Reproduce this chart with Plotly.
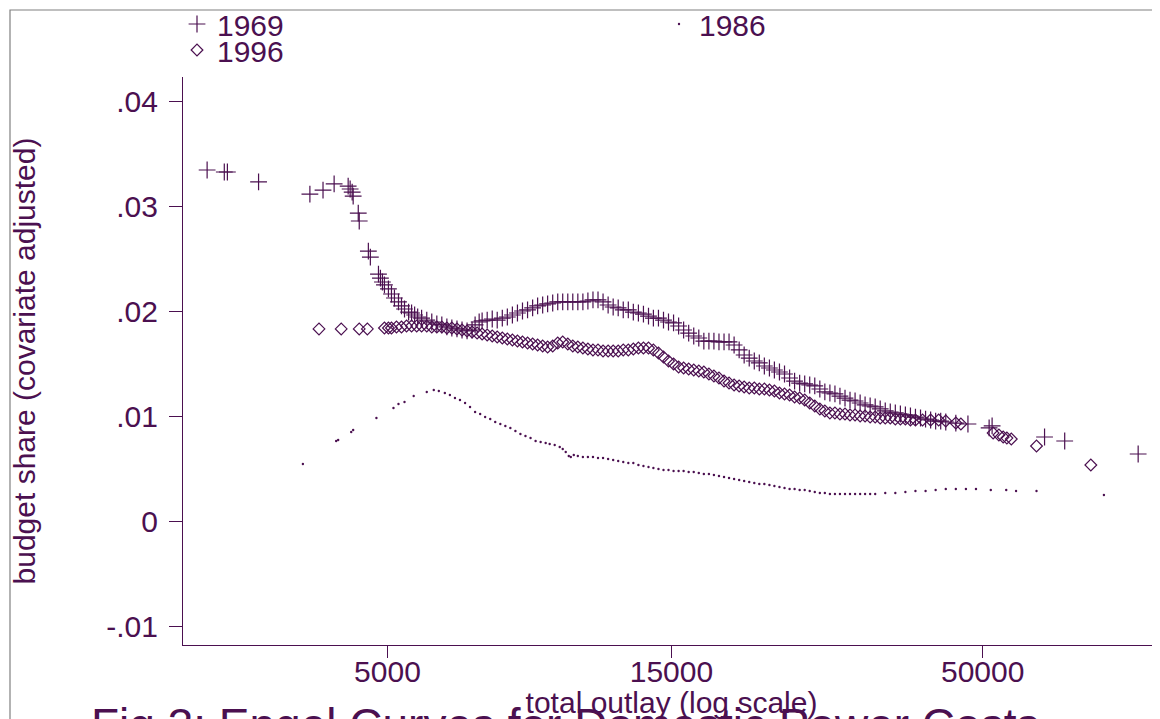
import plotly.graph_objects as go

# ---------------- data ----------------
x1969 = [2489, 2660, 2692, 3037, 3704, 3897, 4068, 4295, 4328, 4362, 4379, 4466, 4483, 4644, 4680,
         4829, 4866, 4904, 4942, 5019, 5078, 5137, 5218, 5279, 5341, 5426, 5489, 5554, 5620, 5706,
         5821, 5935, 6052, 6170, 6292, 6414, 6543, 6672, 6803, 6936, 7018, 7129, 7211, 7354, 7499,
         7645, 7797, 7950, 8107, 8267, 8430, 8597, 8767, 8938, 9114, 9291, 9475, 9661, 9849, 10044,
         10240, 10442, 10648, 10857, 11072, 11290, 11512, 11740, 11972, 12207, 12448, 12694, 12943,
         13199, 13459, 13725, 13987, 14264, 14545, 14829, 15122, 15421, 15722, 16033, 16350, 16672,
         17002, 17338, 17677, 18026, 18382, 18742, 19112, 19490, 19871, 20264, 20665, 21069, 21485,
         21910, 22336, 22778, 23228, 23688, 24151, 24628, 25114, 25606, 26112, 26628, 27149, 27686,
         28231, 28783, 29352, 29925, 30517, 31120, 31721, 32348, 32987, 33632, 34296, 34968, 35658,
         36363, 37073, 37806, 38545, 39308, 40084, 40876, 41677, 42500, 43341, 45062, 47223, 51257,
         51851, 63513, 68660, 91225]
y1969 = [.03343, .03324, .03324, .03229, .03114, .03152, .03210, .03190, .03162, .03133, .03095, .02933,
         .02857, .02571, .02514, .02352, .02314, .02276, .02248, .02210, .02162, .02124, .02086, .02048,
         .02019, .01990, .01981, .01962, .01943, .01933, .01914, .01895, .01876, .01867, .01848, .01838,
         .01829, .01819, .01810, .01819, .01867, .01895, .01905, .01914, .01924, .01914, .01933, .01943,
         .01962, .01981, .02000, .02010, .02029, .02048, .02057, .02067, .02076, .02086, .02086, .02086,
         .02086, .02086, .02086, .02095, .02105, .02105, .02086, .02057, .02038, .02029, .02010, .02010,
         .01990, .01981, .01971, .01952, .01933, .01933, .01914, .01895, .01886, .01857, .01819, .01790,
         .01762, .01743, .01714, .01714, .01714, .01705, .01705, .01705, .01676, .01629, .01581, .01552,
         .01524, .01505, .01476, .01457, .01438, .01419, .01400, .01362, .01333, .01314, .01305, .01295,
         .01286, .01257, .01229, .01219, .01210, .01190, .01171, .01152, .01143, .01124, .01105, .01095,
         .01086, .01067, .01048, .01038, .01029, .01019, .01010, .01000, .00990, .00981, .00971, .00962,
         .00952, .00952, .00943, .00933, .00924, .00886, .00905, .00800, .00762, .00638]

x1986 = [3605, 4100, 4132, 4346, 4379, 4791, 5118, 5218, 5341, 5534, 5821, 5981, 6099, 6243, 6366,
         6492, 6619, 6751, 6882, 7018, 7157, 7296, 7441, 7586, 7737, 7889, 8043, 8202, 8363, 8528,
         8697, 8868, 9043, 9221, 9365, 9548, 9736, 9849, 9965, 10083, 10162, 10280, 10442, 10648,
         10857, 11072, 11290, 11512, 11740, 11972, 12207, 12448, 12694, 12943, 13199, 13459, 13725,
         13987, 14264, 14545, 14829, 15122, 15421, 15722, 16033, 16350, 16672, 17002, 17338, 17677,
         18026, 18382, 18742, 19112, 19490, 19871, 20264, 20665, 21069, 21485, 21910, 22336, 22778,
         23228, 23688, 24151, 24628, 25114, 25606, 26112, 26628, 27149, 27686, 28231, 28783, 29352,
         29925, 30517, 31120, 31721, 32348, 32987, 34296, 35658, 37073, 38545, 40084, 41677, 43341,
         45062, 46855, 48715, 51586, 54761, 56883, 61564, 79907]
y1986 = [.00543, .00762, .00771, .00848, .00867, .00981, .01076, .01114, .01133, .01190, .01229, .01248,
         .01238, .01219, .01200, .01171, .01152, .01124, .01086, .01038, .01019, .00990, .00971, .00943,
         .00924, .00905, .00886, .00857, .00829, .00810, .00790, .00762, .00752, .00743, .00733, .00724,
         .00705, .00686, .00657, .00619, .00610, .00629, .00619, .00610, .00610, .00610, .00600, .00600,
         .00590, .00581, .00571, .00562, .00552, .00552, .00533, .00524, .00514, .00505, .00495, .00486,
         .00486, .00476, .00476, .00476, .00467, .00467, .00457, .00448, .00448, .00438, .00429, .00419,
         .00410, .00400, .00390, .00381, .00371, .00362, .00352, .00352, .00343, .00333, .00324, .00314,
         .00305, .00305, .00295, .00295, .00286, .00276, .00267, .00267, .00257, .00257, .00257, .00257,
         .00257, .00257, .00257, .00257, .00257, .00257, .00267, .00267, .00276, .00286, .00286, .00295,
         .00305, .00305, .00305, .00305, .00295, .00295, .00286, .00286, .00248]

x1996 = [3837, 4181, 4483, 4626, 4942, 5019, 5078, 5177, 5279, 5383, 5489, 5599, 5706, 5821, 5935,
         6052, 6170, 6292, 6414, 6543, 6672, 6803, 6936, 7073, 7211, 7354, 7499, 7645, 7797, 7950,
         8107, 8267, 8430, 8597, 8767, 8938, 9114, 9291, 9475, 9661, 9849, 10044, 10240, 10442,
         10648, 10857, 11072, 11290, 11512, 11740, 11972, 12207, 12448, 12694, 12943, 13199, 13459,
         13725, 13987, 14264, 14545, 14829, 15122, 15421, 15722, 16033, 16350, 16672, 17002, 17338,
         17677, 18026, 18382, 18742, 19112, 19490, 19871, 20264, 20665, 21069, 21485, 21910, 22336,
         22778, 23228, 23688, 24151, 24628, 25114, 25606, 26112, 26628, 27149, 27686, 28231, 28783,
         29352, 29925, 30517, 31120, 31721, 32348, 32987, 33632, 34296, 34968, 35658, 36363, 37073,
         37806, 38545, 39617, 40876, 42170, 43341, 45062, 45953, 52055, 53230, 54122, 54900, 55843,
         61564, 75961]
y1996 = [.01829, .01829, .01829, .01829, .01838, .01838, .01838, .01848, .01848, .01857, .01857, .01857,
         .01857, .01857, .01848, .01848, .01848, .01838, .01838, .01829, .01819, .01810, .01800, .01790,
         .01781, .01771, .01762, .01752, .01743, .01733, .01724, .01714, .01705, .01695, .01686, .01676,
         .01667, .01657, .01667, .01695, .01705, .01686, .01667, .01657, .01648, .01638, .01629, .01629,
         .01619, .01619, .01619, .01619, .01629, .01629, .01638, .01648, .01648, .01648, .01629, .01600,
         .01562, .01524, .01495, .01467, .01457, .01448, .01438, .01429, .01419, .01400, .01381, .01362,
         .01333, .01314, .01295, .01286, .01276, .01267, .01267, .01257, .01257, .01248, .01238, .01219,
         .01210, .01200, .01181, .01171, .01152, .01124, .01095, .01067, .01048, .01029, .01029, .01019,
         .01019, .01010, .01010, .01000, .01000, .00990, .00990, .00981, .00981, .00981, .00971, .00971,
         .00971, .00962, .00962, .00962, .00962, .00962, .00952, .00933, .00924, .00838, .00819, .00800,
         .00790, .00781, .00714, .00533]

x_ticks = [5000, 15000, 50000]
x_ticklabels = ["5000", "15000", "50000"]
y_ticks = [-0.01, 0, 0.01, 0.02, 0.03, 0.04]
y_ticklabels = ["-.01", "0", ".01", ".02", ".03", ".04"]

# ---------------- styling ----------------
INK = "#4b1050"
FONT = "Liberation Sans, Arial, Helvetica, sans-serif"
OFF = 8                      # page body margin
W, H = 1160 - OFF, 719 - OFF
L, R, T, B = 183 - OFF, 0, 77 - OFF, 719 - 645
PW, PH = W - L - R, H - T - B


def px2paper_x(px):
    return (px - OFF - L) / PW


def px2paper_y(py):
    return (H - B - (py - OFF)) / PH


fig = go.Figure()
fig.add_trace(go.Scatter(
    x=x1969, y=y1969, mode="markers", name="1969", legend="legend",
    marker=dict(symbol="cross-thin-open", size=12, color=INK, line=dict(color=INK, width=1.2)),
))
fig.add_trace(go.Scatter(
    x=x1986, y=y1986, mode="markers", name="1986", legend="legend2",
    marker=dict(symbol="circle", size=2.4, color=INK, line=dict(width=0)),
))
fig.add_trace(go.Scatter(
    x=x1996, y=y1996, mode="markers", name="1996", legend="legend3",
    marker=dict(symbol="diamond-open", size=9, color=INK, line=dict(color=INK, width=1.2)),
))

FS = 30
legend_common = dict(orientation="v", xanchor="left", yanchor="middle", bgcolor="rgba(0,0,0,0)",
                     borderwidth=0, font=dict(family=FONT, size=FS, color=INK))

fig.update_layout(
    width=W, height=H,
    margin=dict(l=L, r=R, t=T, b=B, autoexpand=False),
    paper_bgcolor="white", plot_bgcolor="white",
    font=dict(family=FONT, size=FS, color=INK),
    showlegend=True,
    legend=dict(x=px2paper_x(177), y=px2paper_y(24), **legend_common),
    legend2=dict(x=px2paper_x(659), y=px2paper_y(24), **legend_common),
    legend3=dict(x=px2paper_x(177), y=px2paper_y(50), **legend_common),
    xaxis=dict(
        type="log", range=[3.3555, 4.9968],
        tickmode="array", tickvals=x_ticks, ticktext=x_ticklabels,
        showgrid=False, zeroline=False,
        showline=True, linecolor=INK, linewidth=1.2,
        ticks="outside", ticklen=12, tickwidth=1, tickcolor=INK,
        ticklabelstandoff=-12,
        tickfont=dict(family=FONT, size=FS, color=INK),
        title=dict(text="total outlay (log scale)", font=dict(family=FONT, size=FS, color=INK), standoff=5),
    ),
    yaxis=dict(
        range=[-0.01181, 0.042286],
        tickmode="array", tickvals=y_ticks, ticktext=y_ticklabels,
        showgrid=False, zeroline=False,
        showline=True, linecolor=INK, linewidth=1.2,
        ticks="outside", ticklen=13, tickwidth=1, tickcolor=INK,
        ticklabelstandoff=5,
        tickfont=dict(family=FONT, size=FS, color=INK),
        title=dict(text="budget share (covariate adjusted)", font=dict(family=FONT, size=FS, color=INK), standoff=62),
    ),
    shapes=[dict(type="rect", xref="paper", yref="paper",
                 x0=px2paper_x(10), x1=px2paper_x(1200), y0=px2paper_y(760), y1=px2paper_y(10),
                 line=dict(color="#808080", width=1.2), fillcolor="rgba(0,0,0,0)", layer="below")],
    annotations=[dict(text="Fig 3: Engel Curves for Domestic Power Costs", xref="paper", yref="paper",
                      x=px2paper_x(89), y=px2paper_y(697), xanchor="left", yanchor="top",
                      showarrow=False, font=dict(family=FONT, size=46, color=INK))],
)

fig.write_html("out.html")
